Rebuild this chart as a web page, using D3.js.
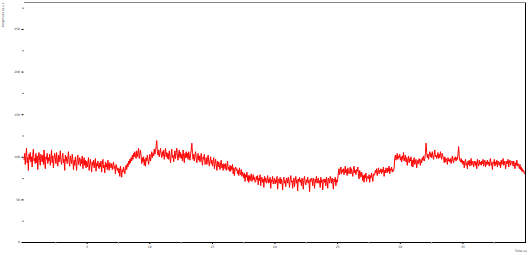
<!DOCTYPE html>
<html>
<head>
<meta charset="utf-8">
<script src="https://cdn.jsdelivr.net/npm/d3@7/dist/d3.min.js"></script>
<style>
html,body{margin:0;padding:0;background:#fff;}
svg{display:block;}
</style>
</head>
<body>
<svg id="chart" width="529" height="255"></svg>
<script>
// ---- data ----
const timeStart = 0, timeStep = 0.05;
const signal = [
96,104,91,101,110,93,99,84,103,97,
105,94,100,88,102,109,95,98,92,104,
93,101,85,99,105,96,90,103,98,94,
102,91,108,95,86,100,97,104,92,99,
95,103,90,98,108,93,101,87,97,104,
99,92,105,96,89,102,94,100,107,95,
91,99,104,93,97,84,102,95,100,92,
98,106,94,89,101,96,92,103,97,85,
96,90,100,93,84,98,102,91,95,99,
89,97,92,101,86,94,99,90,96,87,
95,88,93,99,84,91,97,90,82,94,
90,96,87,93,98,83,92,89,95,88,
86,93,88,95,82,91,97,87,90,81,
94,88,92,85,96,89,84,93,91,87,
92,85,90,94,86,89,80,91,88,84,
87,81,86,77,89,83,76,85,82,88,
84,80,86,90,85,92,88,95,91,97,
93,99,95,102,97,104,100,106,101,98,
107,100,104,110,98,103,108,101,92,99,
94,100,90,97,89,99,95,102,96,91,
97,103,95,100,106,99,104,101,109,103,
107,112,119,106,102,108,100,105,110,103,
99,106,101,108,97,104,110,100,105,98,
104,97,107,100,93,103,109,99,102,94,
100,107,98,105,110,101,96,104,108,99,
105,98,103,95,108,100,93,104,99,106,
99,104,97,106,101,96,103,108,116,104,
97,103,95,101,106,98,93,100,104,96,
101,94,99,104,95,90,100,97,103,91,
93,99,91,97,102,94,89,96,100,92,
96,89,94,99,86,92,97,90,84,95,
88,94,90,85,93,96,87,91,84,92,
91,86,92,84,89,95,85,88,83,90,
83,89,85,91,80,87,78,86,88,84,
86,80,84,78,87,81,79,85,77,82,
80,75,81,71,79,76,82,72,78,70,
78,72,77,80,71,75,79,73,76,70,
71,77,73,78,67,75,72,79,66,74,
76,70,74,64,77,71,75,69,73,78,
69,74,70,76,63,73,71,77,68,72,
75,68,73,70,77,62,72,74,69,76,
68,74,70,61,73,76,69,72,65,75,
74,69,76,71,64,73,78,70,72,63,
70,75,65,72,77,69,73,60,74,71,
76,70,73,66,75,71,62,74,77,69,
67,73,70,76,69,72,59,74,71,75,
73,66,75,71,63,74,70,77,69,72,
75,69,72,64,76,70,73,61,71,74,
70,74,66,76,71,63,75,72,69,77,
73,69,75,70,62,74,71,76,66,73,
70,74,81,86,79,84,88,80,85,82,
86,79,84,89,81,85,78,87,83,80,
84,88,80,86,82,77,85,89,81,84,
79,85,83,88,80,74,84,81,76,82,
80,72,78,70,79,75,81,71,77,76,
74,79,70,78,75,81,76,71,80,78,
79,84,81,86,78,83,87,80,84,82,
86,80,85,82,88,77,84,81,87,83,
81,87,83,89,80,86,84,88,82,85,
83,87,98,102,96,100,104,97,101,99,
103,96,100,94,101,97,105,95,99,102,
94,99,90,97,101,93,98,95,100,89,
96,88,95,99,91,94,97,87,93,96,
92,98,94,90,97,93,99,96,101,95,
98,104,116,105,99,103,97,102,106,100,
104,99,106,101,97,103,108,100,102,98,
100,105,98,103,99,106,101,97,104,100,
99,93,100,94,98,96,91,99,95,97,
94,98,92,97,101,95,93,99,96,100,
95,99,97,103,112,100,96,94,98,93,
96,91,95,87,94,97,90,93,86,95,
91,96,89,94,98,90,93,95,88,92,
95,90,94,86,97,92,89,96,91,94,
90,95,92,97,89,93,96,88,94,91,
96,91,94,89,95,98,90,93,85,94,
92,97,89,94,91,96,88,95,93,90,
94,87,96,91,93,98,90,92,95,86,
91,95,92,97,88,94,96,90,93,95,
94,89,95,91,86,93,90,96,89,92,
90,86,91,85,88,83,86,82,84,80,
80
];
const xMajorTicks = [5, 10, 15, 20, 25, 30, 35];
const xMinorTicks = [2.5, 7.5, 12.5, 17.5, 22.5, 27.5, 32.5, 37.5];
const yMajorTicks = [0, 50, 100, 150, 200, 250];
const yMinorTicks = [25, 75, 125, 175, 225, 275];
const xDomain = [0, 40];
const yDomain = [0, 280];
const xTitle = "Time (s)";
const yTitle = "Amplitude (a.u.)";

// ---- drawing ----
(function () {
const svg = d3.select("#chart");
const mL = 24, mR = 525, mT = 3.4, mB = 242;
const x = d3.scaleLinear().domain(xDomain).range([mL, mR]);
const y = d3.scaleLinear().domain(yDomain).range([mB, mT]);
const fontFam = "DejaVu Sans, sans-serif";

// frame: top gray, right black
svg.append("line").attr("x1", mL).attr("x2", mR).attr("y1", 2.5).attr("y2", 2.5)
  .attr("stroke", "#888").attr("stroke-width", 1);
svg.append("line").attr("x1", mR + 0.5).attr("x2", mR + 0.5).attr("y1", 2.5).attr("y2", mB)
  .attr("stroke", "#000").attr("stroke-width", 1);

// data line
const pts = signal.map((v, i) => [timeStart + i * timeStep, v]);
const line = d3.line().x(d => x(d[0])).y(d => y(d[1]));
svg.append("path").datum(pts).attr("d", line)
  .attr("fill", "none").attr("stroke", "#ff0000").attr("stroke-width", 1);

// y axis
const yAx = svg.append("g").attr("transform", "translate(23.5,0)")
  .call(d3.axisLeft(y).tickValues(yMajorTicks).tickSize(2).tickPadding(1.5));
yAx.select(".domain").remove();
yAx.selectAll("text").attr("font-size", 3).attr("font-family", fontFam).attr("fill", "#333");
const yMin = svg.append("g").attr("transform", "translate(23.5,0)")
  .call(d3.axisLeft(y).tickValues(yMinorTicks).tickSize(1).tickFormat(""));
yMin.select(".domain").remove();

// x axis
const xAx = svg.append("g").attr("transform", `translate(0,${mB})`)
  .call(d3.axisBottom(x).tickValues(xMajorTicks).tickSize(2).tickPadding(2).tickSizeOuter(0));
xAx.select(".domain").attr("stroke", "#000").attr("d", `M${mL - 2},0.5H${mR + 1}`);
xAx.selectAll("text").attr("font-size", 3).attr("font-family", fontFam).attr("fill", "#333");
const xMin = svg.append("g").attr("transform", `translate(0,${mB})`)
  .call(d3.axisBottom(x).tickValues(xMinorTicks).tickSize(1.5).tickFormat(""));
xMin.select(".domain").remove();
xMin.selectAll("line").attr("stroke", "#999");

// titles
svg.append("text").attr("x", 527).attr("y", 252).attr("text-anchor", "end")
  .attr("font-size", 3).attr("font-family", fontFam).attr("fill", "#333").text(xTitle);
svg.append("text").attr("transform", "translate(4,3) rotate(-90)").attr("text-anchor", "end")
  .attr("font-size", 3).attr("font-family", fontFam).attr("fill", "#333").text(yTitle);
})();
</script>
</body>
</html>
